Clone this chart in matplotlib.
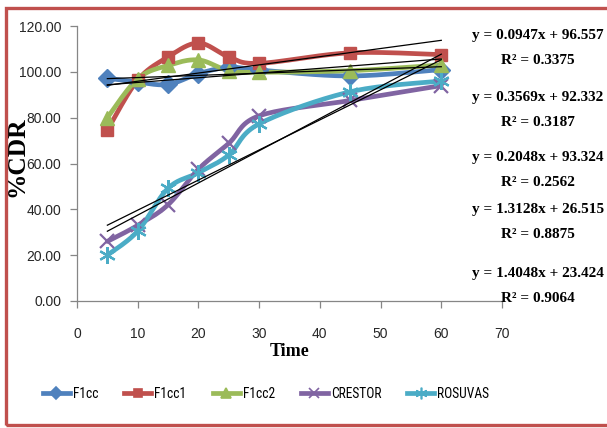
import numpy as np
import matplotlib
matplotlib.use("Agg")
import matplotlib.pyplot as plt
from matplotlib import font_manager
from matplotlib.font_manager import FontProperties
from matplotlib.textpath import TextPath
from matplotlib.patches import Rectangle
from matplotlib.lines import Line2D

# ---- data ----
time = [5, 10, 15, 20, 25, 30, 45, 60]
f1cc = [97.2, 95.5, 94.5, 99.2, 102.0, 100.8, 98.2, 101.0]
f1cc1 = [74.6, 96.4, 106.5, 112.6, 106.5, 103.7, 108.3, 107.5]
f1cc2 = [80.0, 97.0, 102.8, 105.2, 100.5, 99.8, 100.5, 103.0]
crestor = [26.0, 33.0, 42.0, 57.5, 68.8, 80.8, 87.5, 94.0]
rosuvas = [20.0, 30.5, 49.2, 56.0, 63.7, 77.3, 91.3, 96.0]

series_names = ["F1cc", "F1cc1", "F1cc2", "CRESTOR", "ROSUVAS"]
slopes = [0.0947, 0.3569, 0.2048, 1.3128, 1.4048]
intercepts = [96.557, 92.332, 93.324, 26.515, 23.424]
r_squared = ["0.3375", "0.3187", "0.2562", "0.8875", "0.9064"]

x_ticks = [0, 10, 20, 30, 40, 50, 60, 70]
y_ticks = [0, 20, 40, 60, 80, 100, 120]

colors = ["#4F81BD", "#C0504D", "#9BBB59", "#8064A2", "#4BACC6"]
markers = ["D", "s", "^", "x", (6, 2, 0)]
msizes = [9, 9, 10, 10, 12]

DPI = 100


def _wnum(w):
    if isinstance(w, (int, float)):
        return int(w)
    return font_manager.weight_dict.get(str(w).lower(), 400)


def condensed_font(names, weight=400):
    """Return FontProperties for a condensed face of the first family that has one."""
    ents = font_manager.fontManager.ttflist
    for nm in names:
        cands = [f for f in ents if f.name == nm and f.style == "normal"]
        if nm.endswith("Narrow") or nm.endswith("Condensed"):
            cond = cands
        else:
            cond = [f for f in cands if str(f.stretch) == "condensed"]
        if cond:
            best = min(cond, key=lambda f: abs(_wnum(f.weight) - weight))
            return FontProperties(fname=best.fname)
    return None


def fit_size(fp, text, target_px):
    """Font size (pt) at which the ink width of text equals target_px."""
    w = TextPath((0, 0), text, size=100, prop=fp).get_extents().width
    return 100 * target_px * 72 / (w * DPI)


tick_fp = FontProperties(family="Liberation Sans")
leg_fp = condensed_font(["Liberation Sans Narrow", "Roboto Condensed", "Noto Sans",
                         "Open Sans", "DejaVu Sans"]) or FontProperties(family="Liberation Sans")
eq_fp = FontProperties(family="Liberation Serif", weight="bold")

tick_size = fit_size(tick_fp, "120.00", 41)
leg_size = fit_size(leg_fp, "CRESTOR", 50)
eq_size = fit_size(eq_fp, "y = 0.0947x + 96.557", 131)
time_size = fit_size(eq_fp, "Time", 39)
ylab_size = fit_size(eq_fp, "%CDR", 78)


def smooth(xs, ys, n=20):
    """Smoothed curve (cubic Bezier segments) through the given points."""
    p = np.column_stack([xs, ys]).astype(float)
    ext = np.vstack([p[0], p, p[-1]])
    out = []
    for i in range(1, len(ext) - 2):
        p0, p1, p2, p3 = ext[i - 1], ext[i], ext[i + 1], ext[i + 2]
        c1 = p1 + (p2 - p0) / 6.0
        c2 = p2 - (p3 - p1) / 6.0
        t = np.linspace(0, 1, n)[:, None]
        seg = ((1 - t) ** 3) * p1 + 3 * ((1 - t) ** 2) * t * c1 + 3 * (1 - t) * t ** 2 * c2 + t ** 3 * p2
        out.append(seg if i == 1 else seg[1:])
    c = np.vstack(out)
    return c[:, 0], c[:, 1]


fig = plt.figure(figsize=(6.07, 4.28), dpi=DPI)
ax = fig.add_axes([77 / 607, 1 - 301 / 428, (502 - 77) / 607, (301 - 26) / 428])

all_series = [f1cc, f1cc1, f1cc2, crestor, rosuvas]
for ys, col, mk, ms in zip(all_series, colors, markers, msizes):
    sx, sy = smooth(time, ys)
    ax.plot(sx, sy, color=col, lw=3.4, solid_capstyle="round", zorder=2)
    thin = mk == "x" or isinstance(mk, tuple)
    ax.plot(time, ys, ls="none", marker=mk, ms=ms, color=col,
            mec=col, mew=1.6 if thin else 1.0, zorder=3)

# linear trend lines
tx = np.array([time[0], time[-1]], dtype=float)
for m, b in zip(slopes, intercepts):
    ax.plot(tx, m * tx + b, color="black", lw=0.9, zorder=4)

ax.set_xlim(0, 70)
ax.set_ylim(0, 120)
ax.set_xticks(x_ticks)
ax.set_yticks(y_ticks)
ax.set_yticklabels([f"{v:.2f}" for v in y_ticks])
for s in ["top", "right"]:
    ax.spines[s].set_visible(False)
for s in ["left", "bottom"]:
    ax.spines[s].set_color("#868686")
    ax.spines[s].set_linewidth(0.9)
ax.tick_params(axis="both", direction="out", length=5, width=0.9, color="#868686",
               labelcolor="#262626")
ax.tick_params(axis="x", pad=14)
ax.tick_params(axis="y", pad=6.5)
for lab in ax.get_xticklabels() + ax.get_yticklabels():
    lab.set_fontproperties(tick_fp)
    lab.set_fontsize(tick_size)

ax.set_xlabel("Time", fontproperties=eq_fp, fontsize=time_size, labelpad=1)
fig.text(17 / 607, 1 - 157 / 428, "%CDR", fontproperties=eq_fp, fontsize=ylab_size,
         rotation=90, ha="center", va="center")

# trend line equations
eq_y = [35, 97, 157, 210, 274]
for m, b, r2, yp in zip(slopes, intercepts, r_squared, eq_y):
    fig.text(538 / 607, 1 - yp / 428, f"y = {m:.4f}x + {b:.3f}", fontproperties=eq_fp,
             fontsize=eq_size, ha="center", va="center")
    fig.text(538 / 607, 1 - (yp + 25) / 428, f"R\u00b2 = {r2}", fontproperties=eq_fp,
             fontsize=eq_size, ha="center", va="center")

fs_px = leg_size * DPI / 72
handles = [Line2D([], [], color=c, lw=3.4, marker=mk, ms=ms * 0.7, mew=1.2)
           for c, mk, ms in zip(colors, markers, msizes)]
leg_prop = leg_fp.copy()
leg_prop.set_size(leg_size)
fig.legend(handles, series_names, loc="center", bbox_to_anchor=(266 / 607, 1 - 394 / 428),
           ncol=5, frameon=False, handlelength=27 / fs_px, handletextpad=3 / fs_px,
           columnspacing=26 / fs_px, prop=leg_prop)

# outer border
fig.patches.append(Rectangle((6 / 607, 3 / 428), 1.2, 417 / 428, transform=fig.transFigure,
                             fill=False, edgecolor="#C0504D", lw=2.4, zorder=10))

fig.savefig("out.png", dpi=DPI)
